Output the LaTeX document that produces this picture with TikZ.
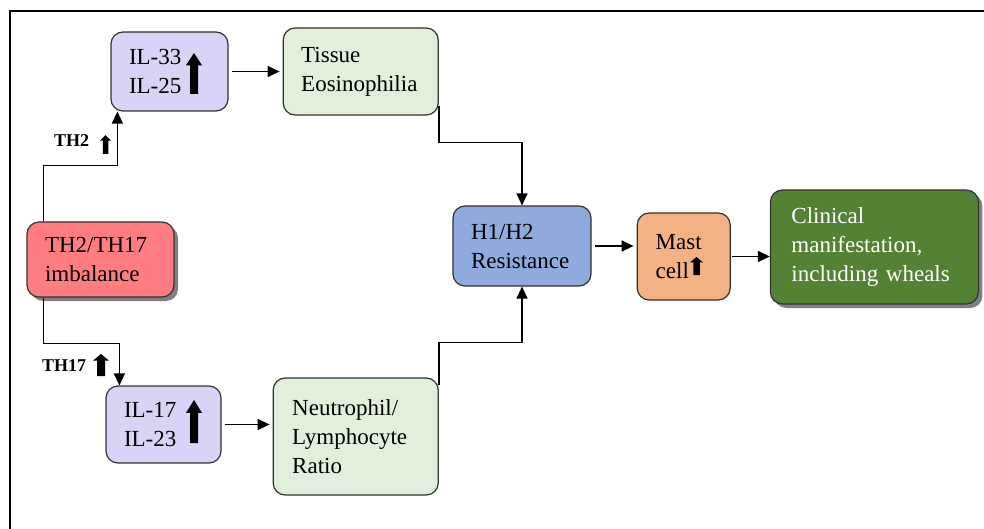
\documentclass[tikz,border=0pt]{standalone}
\usepackage{fontspec}
\setmainfont{Liberation Serif}
\usepackage{xcolor}
\usetikzlibrary{arrows.meta,positioning,shadows}
\definecolor{imbred}{HTML}{FF7C80}
\definecolor{cytolav}{HTML}{D9D3F6}
\definecolor{resgreen}{HTML}{E2EFDA}
\definecolor{recblue}{HTML}{8FAADC}
\definecolor{mastorg}{HTML}{F4B183}
\definecolor{clingreen}{HTML}{548235}
\tikzset{
  box/.style   ={rectangle, rounded corners=12pt, draw=black!80, line width=1.2pt,
                 align=left, inner xsep=18pt, inner ysep=2pt,
                 font=\fontsize{23}{29}\selectfont},
  shade/.style ={drop shadow={shadow xshift=4pt, shadow yshift=-4pt,
                 fill=black!50, opacity=1}},
  cause/.style ={box, fill=imbred, shade},
  cyto/.style  ={box, fill=cytolav},
  resp/.style  ={box, fill=resgreen},
  recep/.style ={box, fill=recblue},
  mastb/.style ={box, fill=mastorg},
  clin/.style  ={box, fill=clingreen, text=white, inner xsep=21pt, shade},
  lbl/.style   ={font=\fontsize{18}{20}\selectfont\bfseries, inner sep=0pt},
  ar/.style    ={-{Triangle[length=12pt,width=11pt]}, line width=1.4pt},
  gap/.style   ={ar, shorten <=3pt, shorten >=3pt},
  pics/upar/.style 2 args={code={
    \fill (-#2/4,0) -- (-#2/4,-0.7*#1) -- (-#2/2,-0.7*#1) -- (0,-#1)
          -- (#2/2,-0.7*#1) -- (#2/4,-0.7*#1) -- (#2/4,0) -- cycle;}},
}
\begin{document}
\begin{tikzpicture}[x=1pt, y=-1pt]
\useasboundingbox (0,0) rectangle (984,529);
\draw[line width=1.5pt] (984,11) -- (10,11) -- (10,529);

\node[cause, text width=111pt, minimum height=75pt] (imb) at (100.5,259.5) {TH2/TH17\\imbalance};
\node[cyto, text width=81pt, minimum height=79pt] (il33) at (169.5,71.5) {IL-33\\IL-25};
\node[resp, text width=119pt, minimum height=87pt, right=54pt of il33] (tissue) {Tissue\\Eosinophilia};
\node[cyto, text width=79pt, minimum height=77pt] (il17) at (163.5,424.5) {IL-17\\IL-23};
\node[resp, text width=127pt, minimum height=117pt, inner xsep=19pt, right=51pt of il17, yshift=-12pt] (neut)
     {Neutrophil/\\Lymphocyte\\Ratio};
\node[recep, text width=102pt, minimum height=80pt] (hres) at (522,246) {H1/H2\\Resistance};
\node[mastb, text width=56pt, minimum height=87pt, inner xsep=18.5pt, right=45pt of hres, yshift=-10.5pt] (mast)
     {Mast\\cell};
\node[clin, text width=166pt, minimum height=114pt, right=39pt of mast, yshift=9.5pt] (clin)
     {Clinical\\manifestation,\\including wheals};

\node[lbl, anchor=base west] (th2lbl) at (54,147) {TH2};
\node[lbl, anchor=base west] (th17lbl) at (42,371) {TH17};

\pic at (194,94) {upar={41}{16}};
\pic at (194,443) {upar={43}{16}};
\pic at (105.5,154) {upar={19}{11}};
\pic at (101,376) {upar={22}{16}};
\pic at (696.5,275) {upar={18}{13}};

\draw[ar] ([xshift=17pt]imb.north west) -- ++(0,-56) -| ([xshift=7pt]il33.south west);
\draw[ar] ([xshift=17pt]imb.south west) -- ++(0,46) -| ([xshift=14pt]il17.north west);
\draw[gap] (il33) -- (tissue);
\draw[gap] (il17.east) -- (il17.east -| neut.west);
\draw[ar] ([yshift=10pt]tissue.south east) -- ++(0,37) -| (hres.north);
\draw[ar] ([yshift=-8pt]neut.north east) -- ++(0,-43) -| (hres.south);
\draw[gap] (hres.east) -- (hres.east -| mast.west);
\draw[ar, shorten <=1pt] (mast.east) -- (mast.east -| clin.west);
\end{tikzpicture}
\end{document}
